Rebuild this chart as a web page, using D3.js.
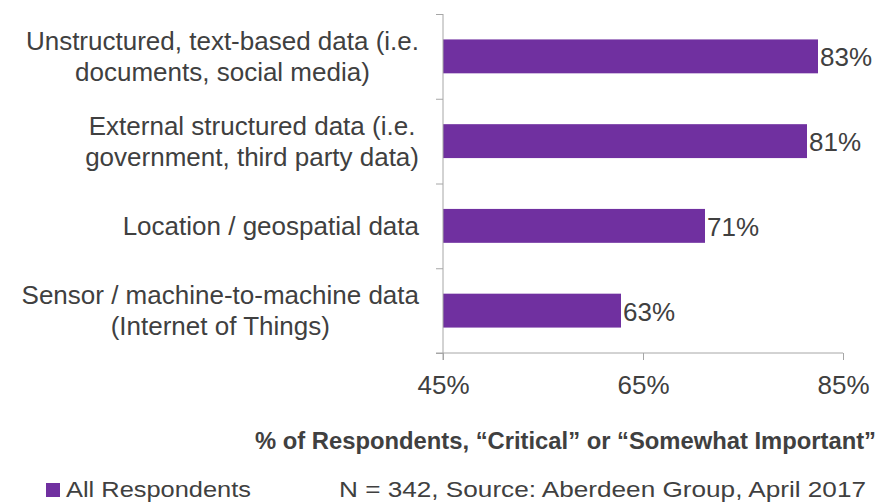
<html>
<script src='https://d3js.org/d3.v7.min.js'></script>
<style>
body {margin: 0; background: #fff;}
text {font-family: Arial, 'Liberation Sans', sans-serif; fill: #404040;}
.axis path, .axis line {stroke: #A6A6A6;}
</style>
<body onload='init()'>
<svg width=886 height=504>
</svg>
<script>
var categories = [
  ['Unstructured, text-based data (i.e.', 'documents, social media)'],
  ['External structured data (i.e.', 'government, third party data)'],
  ['Location / geospatial data'],
  ['Sensor / machine-to-machine data', '(Internet of Things)']
];
var values = [82.5, 81.4, 71.2, 62.8];
var tickValues = [45, 65, 85];
var axisTitle = '% of Respondents, \u201cCritical\u201d or \u201cSomewhat Important\u201d';
var seriesName = 'All Respondents';
var source = 'N = 342, Source: Aberdeen Group, April 2017';

function init() {

var svg = d3.select('svg');
var left = 443, top = 14, plotW = 400, plotH = 339;

var xs = d3.scaleLinear().domain([45, 85]).range([0, plotW]);
var ys = d3.scaleBand().domain(d3.range(categories.length)).range([0, plotH]).paddingInner(0.6).paddingOuter(0.3);

var g = svg.append('g').attr('transform', 'translate(' + left + ',' + top + ')');

g.selectAll('rect').data(values).enter().append('rect')
  .attr('x', 0)
  .attr('y', function(d, i) {return ys(i);})
  .attr('width', function(d) {return xs(d) - xs(45);})
  .attr('height', ys.bandwidth())
  .attr('fill', '#7030A0');

g.selectAll('.val').data(values).enter().append('text')
  .attr('class', 'val')
  .attr('x', function(d) {return xs(d) + 2;})
  .attr('y', function(d, i) {return ys(i) + ys.bandwidth() / 2 + 10;})
  .style('font-size', '26px')
  .text(function(d) {return Math.round(d) + '%';});

// category axis: tick marks sit between the bands
var step = plotH / categories.length;
var bounds = d3.range(categories.length + 1).map(function(i) {return i * step;});
var yEdge = d3.scaleLinear().domain([0, plotH]).range([0, plotH]);
g.append('g').attr('class', 'axis')
  .call(d3.axisLeft(yEdge).tickValues(bounds).tickSize(7).tickSizeOuter(0).tickFormat(''))
  .select('.domain').attr('d', 'M0,0V' + (plotH + 7));

var xa = g.append('g').attr('class', 'axis')
  .attr('transform', 'translate(0,' + plotH + ')')
  .call(d3.axisBottom(xs).tickValues(tickValues).tickSize(7).tickSizeOuter(0).tickFormat(function(d) {return d + '%';}));
xa.select('.domain').attr('d', 'M-7,0H' + plotW);
xa.selectAll('text').attr('y', 41).attr('dy', 0).style('font-size', '26px').style('fill', '#404040');

// category labels, lines centred, block right-aligned
categories.forEach(function(lines, i) {
  var c = top + ys(i) + ys.bandwidth() / 2;
  var t = svg.append('text').attr('text-anchor', 'middle').style('font-size', '26px');
  var base = lines.length === 1 ? [c + 9] : [c - 6.5, c + 24.5];
  lines.forEach(function(l, j) {
    t.append('tspan').attr('y', base[j]).text(l);
  });
  var maxW = d3.max(t.selectAll('tspan').nodes(), function(n) {return n.getComputedTextLength();});
  t.selectAll('tspan').attr('x', 419 - maxW / 2);
});

svg.append('text')
  .attr('x', 255).attr('y', 449)
  .attr('textLength', 621).attr('lengthAdjust', 'spacingAndGlyphs')
  .style('font-size', '23px').style('font-weight', 'bold')
  .text(axisTitle);

svg.append('rect').attr('x', 46).attr('y', 483).attr('width', 14).attr('height', 14).attr('fill', '#7030A0');
svg.append('text').attr('x', 66).attr('y', 497)
  .attr('textLength', 185).attr('lengthAdjust', 'spacingAndGlyphs')
  .style('font-size', '22px').text(seriesName);
svg.append('text').attr('x', 339).attr('y', 497)
  .attr('textLength', 527).attr('lengthAdjust', 'spacingAndGlyphs')
  .style('font-size', '22px').text(source);
}
</script>
</body>
</html>
